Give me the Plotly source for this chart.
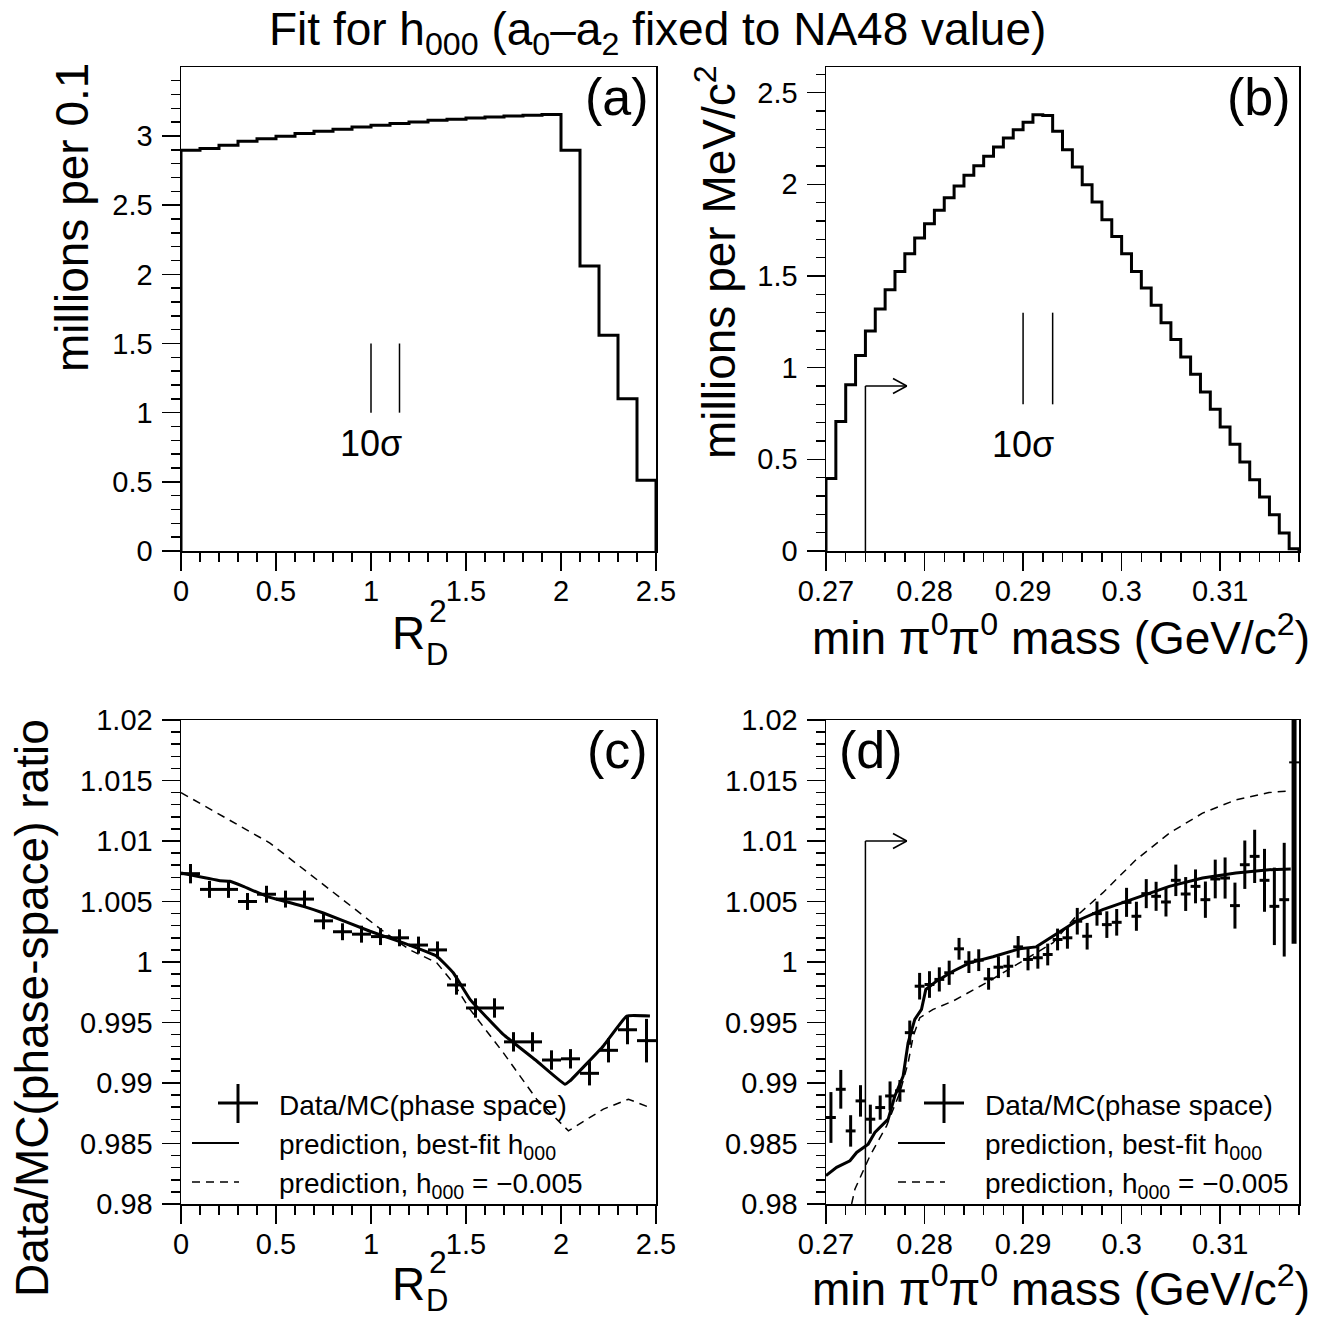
import plotly.graph_objects as go

OFF = 0
W, H = 1328, 1321
FONT = "Liberation Sans, Arial, Helvetica, sans-serif"

# ---------------- data ----------------
# (a) R_D^2 distribution, millions per 0.1
rd2_edges = [0.0, 0.1, 0.2, 0.3, 0.4, 0.5, 0.6, 0.7, 0.8, 0.9, 1.0, 1.1, 1.2,
             1.3, 1.4, 1.5, 1.6, 1.7, 1.8, 1.9, 2.0, 2.1, 2.2, 2.3, 2.4, 2.5]
rd2_counts = [2.897, 2.909, 2.933, 2.962, 2.981, 2.998, 3.018, 3.034, 3.049, 3.066,
              3.078, 3.090, 3.102, 3.114, 3.121, 3.131, 3.138, 3.145, 3.150, 3.155,
              2.897, 2.061, 1.559, 1.101, 0.511]

# (b) min pi0pi0 mass distribution, millions per MeV/c^2
mass_edges = [0.270, 0.271, 0.272, 0.273, 0.274, 0.275, 0.276, 0.277, 0.278, 0.279,
              0.280, 0.281, 0.282, 0.283, 0.284, 0.285, 0.286, 0.287, 0.288, 0.289,
              0.290, 0.291, 0.292, 0.293, 0.294, 0.295, 0.296, 0.297, 0.298, 0.299,
              0.300, 0.301, 0.302, 0.303, 0.304, 0.305, 0.306, 0.307, 0.308, 0.309,
              0.310, 0.311, 0.312, 0.313, 0.314, 0.315, 0.316, 0.317, 0.318]
mass_counts = [0.395, 0.707, 0.907, 1.067, 1.200, 1.320, 1.425, 1.525, 1.622, 1.707,
               1.785, 1.858, 1.927, 1.991, 2.049, 2.102, 2.153, 2.204, 2.253, 2.298,
               2.338, 2.380, 2.376, 2.289, 2.189, 2.095, 1.998, 1.904, 1.807, 1.716,
               1.622, 1.525, 1.435, 1.340, 1.245, 1.153, 1.058, 0.964, 0.867, 0.773,
               0.676, 0.582, 0.485, 0.389, 0.295, 0.198, 0.098, 0.012]

# (c) Data/MC ratio vs R_D^2
ratio_rd2 = [1.0073, 1.0060, 1.0060, 1.0050, 1.0056, 1.0052, 1.0052, 1.0034, 1.0025, 1.0023,
             1.0021, 1.0020, 1.0014, 1.0010, 0.9981, 0.9962, 0.9962, 0.9934, 0.9934, 0.9919,
             0.9920, 0.9908, 0.9927, 0.9944, 0.9935]
ratio_rd2_err = [0.0008, 0.0007, 0.0007, 0.0007, 0.0007, 0.0007, 0.0007, 0.0007, 0.0007, 0.0007,
                 0.0007, 0.0007, 0.0007, 0.0007, 0.0008, 0.0008, 0.0008, 0.0008, 0.0008, 0.0008,
                 0.0008, 0.0010, 0.0010, 0.0012, 0.0018]
fit_rd2_x = [0.0, 0.205, 0.258, 0.328, 0.451, 0.644, 0.749, 0.995, 1.170, 1.346, 1.433,
             1.521, 1.696, 1.872, 2.021, 2.047, 2.223, 2.346, 2.468]
fit_rd2_y = [1.00735, 1.00672, 1.00667, 1.00625, 1.00543, 1.00460, 1.00405, 1.00254, 1.00158,
             1.00048, 0.99911, 0.99691, 0.99402, 0.99182, 0.98990, 0.99017, 0.99306, 0.99553,
             0.99553]
alt_rd2_x = [0.0, 0.468, 1.065, 1.205, 1.346, 1.433, 1.521, 1.696, 1.872, 2.039, 2.223,
             2.355, 2.468]
alt_rd2_y = [1.01400, 1.00983, 1.00254, 1.00100, 0.99993, 0.99828, 0.99608, 0.99251, 0.98866,
             0.98605, 0.98784, 0.98866, 0.98797]

# (d) Data/MC ratio vs min pi0pi0 mass
ratio_mass = [0.98715, 0.98948, 0.98604, 0.98852, 0.98701, 0.98797, 0.98893, 0.98935, 0.99416,
              0.99800, 0.99814, 0.99856, 0.99911, 1.00109, 0.99999, 1.00015, 0.99861, 0.99957,
              0.99965, 1.00125, 1.00021, 1.00035, 1.00062, 1.00186, 1.00200, 1.00337, 1.00213,
              1.00400, 1.00309, 1.00328, 1.00493, 1.00378, 1.00565, 1.00543, 1.00496, 1.00675,
              1.00562, 1.00625, 1.00515, 1.00686, 1.00694, 1.00466, 1.00804, 1.00873, 1.00675,
              1.00460, 1.00515, 1.01650]
ratio_mass_err = [0.0021, 0.0016, 0.0013, 0.0013, 0.0012, 0.0010, 0.0012, 0.0009, 0.0010,
                  0.0011, 0.0011, 0.0010, 0.0010, 0.0009, 0.0009, 0.0009, 0.0009, 0.0009,
                  0.0009, 0.0009, 0.0009, 0.0009, 0.0009, 0.0009, 0.0009, 0.0011, 0.0011,
                  0.0010, 0.0011, 0.0011, 0.0012, 0.0012, 0.0012, 0.0012, 0.0012, 0.0013,
                  0.0014, 0.0014, 0.0015, 0.0016, 0.0017, 0.0019, 0.0020, 0.0022, 0.0026,
                  0.0032, 0.0047, 0.0150]
fit_mass_x = [0.27000, 0.27108, 0.27243, 0.27311, 0.27428, 0.27496, 0.27631, 0.27699, 0.27783,
              0.27833, 0.27901, 0.27969, 0.28013, 0.28121, 0.28289, 0.28458, 0.28694, 0.28965,
              0.29134, 0.29302, 0.29539, 0.29808, 0.30146, 0.30484, 0.30821, 0.31159, 0.31496,
              0.31716]
fit_mass_y = [0.98234, 0.98303, 0.98357, 0.98426, 0.98495, 0.98591, 0.98701, 0.98893, 0.99058,
              0.99333, 0.99526, 0.99608, 0.99773, 0.99842, 0.99924, 0.99993, 1.00043, 1.00109,
              1.00125, 1.00213, 1.00337, 1.00433, 1.00529, 1.00625, 1.00694, 1.00735, 1.00763,
              1.00768]
alt_mass_x = [0.27260, 0.27294, 0.27446, 0.27615, 0.27750, 0.27834, 0.27885, 0.27952, 0.28087,
              0.28289, 0.28627, 0.28965, 0.29302, 0.29539, 0.29808, 0.30146, 0.30484, 0.30821,
              0.31159, 0.31496, 0.31699]
alt_mass_y = [0.98000, 0.98124, 0.98398, 0.98646, 0.98921, 0.99169, 0.99388, 0.99540, 0.99608,
              0.99677, 0.99828, 0.99993, 1.00158, 1.00378, 1.00571, 1.00845, 1.01065, 1.01230,
              1.01340, 1.01400, 1.01414]

# cut and resolution markers
mass_cut = 0.274
sigma_rd2 = [1.0, 1.15]
sigma_mass = [0.290, 0.293]


# ---------------- helpers ----------------
def px(x):
    return (x - OFF) / W


def py(y):
    return 1 - (y - OFF) / H


def step_xy(edges, vals):
    xs = [edges[0]] + list(edges) + [edges[-1]]
    ys = [0] + list(vals) + [vals[-1], 0]
    return xs, ys


def centers(edges):
    return [(edges[i] + edges[i + 1]) / 2 for i in range(len(edges) - 1)]


def halfw(edges):
    return [(edges[i + 1] - edges[i]) / 2 for i in range(len(edges) - 1)]


def ann(text, x, y, size, xanchor="center", yanchor="middle", angle=0, xref="paper", yref="paper"):
    return dict(text=text, x=x, y=y, xref=xref, yref=yref, showarrow=False,
                font=dict(family=FONT, size=size, color="black"),
                xanchor=xanchor, yanchor=yanchor, textangle=angle)


def line(x0, y0, x1, y1, xref="paper", yref="paper", width=1.5, dash=None):
    d = dict(type="line", x0=x0, y0=y0, x1=x1, y1=y1, xref=xref, yref=yref,
             line=dict(color="black", width=width))
    if dash:
        d["line"]["dash"] = dash
    return d


fig = go.Figure()

# (a) histogram
xa, ya = step_xy(rd2_edges, rd2_counts)
fig.add_trace(go.Scatter(x=xa, y=ya, mode="lines", line=dict(color="black", width=3, shape="hv"),
                         xaxis="x", yaxis="y", showlegend=False))
# (b) histogram
xb, yb = step_xy(mass_edges, mass_counts)
fig.add_trace(go.Scatter(x=xb, y=yb, mode="lines", line=dict(color="black", width=3, shape="hv"),
                         xaxis="x2", yaxis="y2", showlegend=False))

DASH = "8px,6px"
# (c)
fig.add_trace(go.Scatter(x=alt_rd2_x, y=alt_rd2_y, mode="lines",
                         line=dict(color="black", width=1.5, dash=DASH),
                         xaxis="x3", yaxis="y3", showlegend=False))
fig.add_trace(go.Scatter(x=fit_rd2_x, y=fit_rd2_y, mode="lines",
                         line=dict(color="black", width=3, shape="spline", smoothing=0.3),
                         xaxis="x3", yaxis="y3", showlegend=False))
fig.add_trace(go.Scatter(x=centers(rd2_edges), y=ratio_rd2, mode="markers",
                         marker=dict(size=1, color="black"),
                         error_y=dict(type="data", array=ratio_rd2_err, color="black", thickness=3, width=0),
                         error_x=dict(type="data", array=halfw(rd2_edges), color="black", thickness=3, width=0),
                         xaxis="x3", yaxis="y3", showlegend=False))
# (d)
fig.add_trace(go.Scatter(x=alt_mass_x, y=alt_mass_y, mode="lines",
                         line=dict(color="black", width=1.5, dash=DASH),
                         xaxis="x4", yaxis="y4", showlegend=False))
fig.add_trace(go.Scatter(x=fit_mass_x, y=fit_mass_y, mode="lines",
                         line=dict(color="black", width=3),
                         xaxis="x4", yaxis="y4", showlegend=False))
mc = centers(mass_edges)
mh = halfw(mass_edges)
fig.add_trace(go.Scatter(x=mc[:-1], y=ratio_mass[:-1], mode="markers",
                         marker=dict(size=1, color="black"),
                         error_y=dict(type="data", array=ratio_mass_err[:-1], color="black", thickness=3, width=0),
                         error_x=dict(type="data", array=mh[:-1], color="black", thickness=3, width=0),
                         xaxis="x4", yaxis="y4", showlegend=False))
fig.add_trace(go.Scatter(x=mc[-1:], y=ratio_mass[-1:], mode="markers",
                         marker=dict(size=1, color="black"),
                         error_y=dict(type="data", array=ratio_mass_err[-1:], color="black", thickness=5, width=0),
                         error_x=dict(type="data", array=mh[-1:], color="black", thickness=2, width=0),
                         xaxis="x4", yaxis="y4", showlegend=False))

# ---------------- axes ----------------
def axis(domain, rng, dtick, minor_dtick, fmt, anchor, tick0, standoff=0):
    return dict(domain=domain, range=rng, anchor=anchor, tickmode="linear", tick0=tick0, dtick=dtick,
                tickformat=fmt, showline=True, linecolor="black", linewidth=1.5, mirror=True,
                ticks="outside", ticklen=18, tickwidth=1.5, tickcolor="black",
                ticklabelstandoff=standoff,
                showgrid=False, zeroline=False, automargin=False,
                tickfont=dict(family=FONT, size=29, color="black"),
                minor=dict(ticks="outside", ticklen=9, tickwidth=1.5, tickcolor="black",
                           dtick=minor_dtick, tick0=tick0, showgrid=False))

xl = [px(181), px(656)]
xr = [px(826), px(1299)]
yt = [py(551), py(67)]
yb_ = [py(1204), py(720)]

fig.update_layout(
    template="none",
    width=W, height=H, autosize=False,
    margin=dict(l=0, r=0, t=0, b=0, pad=0, autoexpand=False),
    paper_bgcolor="white", plot_bgcolor="white",
    showlegend=False,
    xaxis=axis(xl, [0, 2.5], 0.5, 0.1, ".1~f", "y", 0, -4),
    yaxis=axis(yt, [0, 3.499], 0.5, 0.1, ".1~f", "x", 0, 3),
    xaxis2=axis(xr, [0.27, 0.318], 0.01, 0.002, ".2~f", "y2", 0.27, -4),
    yaxis2=axis(yt, [0, 2.64], 0.5, 0.1, ".1~f", "x2", 0, 3),
    xaxis3=axis(xl, [0, 2.5], 0.5, 0.1, ".1~f", "y3", 0, -4),
    yaxis3=axis(yb_, [0.98, 1.02], 0.005, 0.001, ".3~f", "x3", 0.98, 3),
    xaxis4=axis(xr, [0.27, 0.318], 0.01, 0.002, ".2~f", "y4", 0.27, -4),
    yaxis4=axis(yb_, [0.98, 1.02], 0.005, 0.001, ".3~f", "x4", 0.98, 3),
)

# ---------------- texts ----------------
annotations = []
annotations.append(ann("Fit for h<sub>000</sub> (a<sub>0</sub>–a<sub>2</sub> fixed to NA48 value)",
                       px(657), py(32), 46))
# panel labels
annotations.append(ann("(a)", px(617), py(97), 52))
annotations.append(ann("(b)", px(1259), py(97), 52))
annotations.append(ann("(c)", px(617), py(750), 52))
annotations.append(ann("(d)", px(871), py(750), 52))
# y titles
annotations.append(ann("millions per 0.1", px(72), py(218), 46, angle=-90))
annotations.append(ann("millions per MeV/c<sup>2</sup>", px(716), py(262), 46, angle=-90))
annotations.append(ann("Data/MC(phase-space) ratio", px(32), py(1008), 46, angle=-90))
# x titles
for dy, dsub in ((0, 654), (651, 1300)):
    annotations.append(ann("R", px(408), py(633 + dy), 46))
    annotations.append(ann("2", px(438), py(611 + dy), 32))
    annotations.append(ann("D", px(437), py(dsub), 31))
    annotations.append(ann("min π<sup>0</sup>π<sup>0</sup> mass (GeV/c<sup>2</sup>)", px(1061), py(635 + dy), 46))
# 10 sigma
annotations.append(ann("10σ", sigma_rd2[0], 0.78, 36, xref="x", yref="y"))
annotations.append(ann("10σ", sigma_mass[0], 0.58, 36, xref="x2", yref="y2"))

# legends
leg_rows = ["Data/MC(phase space)", "prediction, best-fit h<sub>000</sub>",
            "prediction, h<sub>000</sub> = −0.005"]
leg_y = [1105, 1143, 1182]
shapes = []
for lx, cx in ((277, 238), (983, 944)):
    for t, yy in zip(leg_rows, leg_y):
        annotations.append(ann(t, px(lx), py(yy + (3 if "sub" in t else 0)), 28, xanchor="left"))
    shapes.append(line(px(cx - 20), py(1103), px(cx + 20), py(1103), width=3))
    shapes.append(line(px(cx), py(1084), px(cx), py(1123), width=3))
    shapes.append(line(px(cx - 46), py(1143), px(cx + 1), py(1143), width=2))
    shapes.append(line(px(cx - 46), py(1182), px(cx + 1), py(1182), width=1.5, dash=DASH))

# 10 sigma lines
for s in sigma_rd2:
    shapes.append(line(s, 1.0, s, 1.5, xref="x", yref="y"))
for s in sigma_mass:
    shapes.append(line(s, 0.8, s, 1.3, xref="x2", yref="y2"))

# cut arrows
for xr_, yr_, ylo, yarr, dy in (("x2", "y2", 0.0, 0.9, 0.041), ("x4", "y4", 0.98, 1.0100, 0.00062)):
    tip = 0.2782
    shapes.append(line(mass_cut, ylo, mass_cut, yarr, xref=xr_, yref=yr_))
    shapes.append(line(mass_cut, yarr, tip, yarr, xref=xr_, yref=yr_))
    shapes.append(line(tip - 0.0014, yarr + dy, tip, yarr, xref=xr_, yref=yr_))
    shapes.append(line(tip - 0.0014, yarr - dy, tip, yarr, xref=xr_, yref=yr_))

fig.update_layout(annotations=annotations, shapes=shapes)

fig.write_html("out.html",
               config={"displayModeBar": False, "staticPlot": True},
               post_script="document.body.style.margin='0';document.body.style.overflow='hidden';")
